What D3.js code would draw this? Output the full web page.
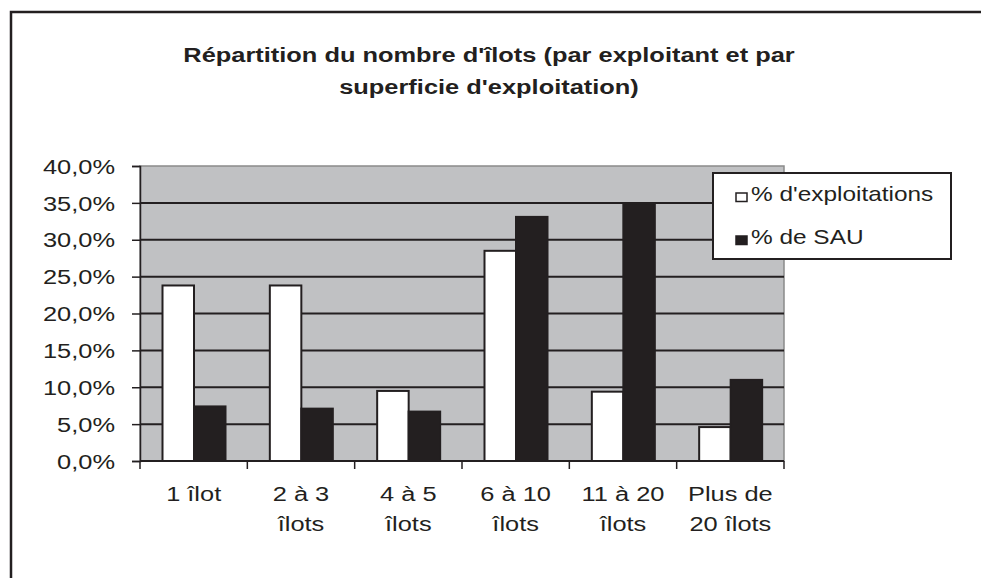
<!DOCTYPE html>
<html><head><meta charset="utf-8">
<script src="https://cdn.jsdelivr.net/npm/d3@7"></script>
<style>body{margin:0;background:#fff}svg{display:block}</style>
</head><body><svg id="c" width="981" height="578"></svg>
<script>
const categories = [["1 îlot"], ["2 à 3", "îlots"], ["4 à 5", "îlots"], ["6 à 10", "îlots"], ["11 à 20", "îlots"], ["Plus de", "20 îlots"]];
const seriesNames = ["% d'exploitations", "% de SAU"];
const exploitations = [23.8, 23.8, 9.5, 28.5, 9.4, 4.6];
const sau = [7.4, 7.1, 6.7, 33.1, 34.9, 11.0];
const yTicks = [0, 5, 10, 15, 20, 25, 30, 35, 40];
const titleLines = ["Répartition du nombre d'îlots (par exploitant et par", "superficie d'exploitation)"];

const svg = d3.select("#c");
const font = "'Liberation Sans', Arial, sans-serif";
const dark = "#231f20";
const L = 140, R = 784, T = 166, B = 461;
const SX = 1.27;

// outer border
svg.append("rect").attr("x", 11).attr("y", 12).attr("width", 1000).attr("height", 600)
  .attr("fill", "none").attr("stroke", dark).attr("stroke-width", 2.5);

// title
svg.append("g").selectAll("text").data(titleLines).join("text")
  .attr("transform", (d, i) => `translate(489,${62 + i * 32}) scale(${SX},1)`)
  .attr("text-anchor", "middle").attr("font-family", font).attr("font-weight", "bold")
  .attr("font-size", 20).attr("fill", dark).text(d => d);

const x = d3.scaleBand().domain(d3.range(categories.length)).range([L, R]).paddingInner(0).paddingOuter(0);
const y = d3.scaleLinear().domain([0, 40]).range([B, T]);

// plot area
svg.append("rect").attr("x", L).attr("y", T).attr("width", R - L).attr("height", B - T)
  .attr("fill", "#c0c1c3").attr("stroke", "#8a8a8a").attr("stroke-width", 1.5);

// gridlines
svg.append("g").selectAll("line").data(yTicks.filter(v => v > 0 && v < 40)).join("line")
  .attr("x1", L).attr("x2", R).attr("y1", d => y(d)).attr("y2", d => y(d))
  .attr("stroke", dark).attr("stroke-width", 2);

// bars
const bw = 31.5;
const groupOff = 22.5;
const series = [exploitations, sau];
const fills = ["#ffffff", dark];
series.forEach((vals, si) => {
  svg.append("g").selectAll("rect").data(vals).join("rect")
    .attr("x", (d, i) => x(i) + groupOff + si * bw)
    .attr("y", d => y(d))
    .attr("width", bw)
    .attr("height", d => B - y(d))
    .attr("fill", fills[si]).attr("stroke", dark).attr("stroke-width", 2);
});

// y axis
const yAxis = d3.axisLeft(y).tickValues(yTicks).tickSize(8)
  .tickFormat(d => d3.format(".1f")(d).replace(".", ",") + "%");
const ga = svg.append("g").attr("transform", `translate(${L},0)`).call(yAxis);
ga.select(".domain").attr("stroke", dark).attr("stroke-width", 1.5);
ga.selectAll(".tick line").attr("stroke", dark).attr("stroke-width", 1.5);
ga.selectAll(".tick text").attr("x", 0).attr("dy", "0.36em")
  .attr("transform", `translate(-25,0) scale(${SX},1)`)
  .attr("font-family", font).attr("font-size", 20).attr("fill", dark);

// x axis
svg.append("line").attr("x1", L).attr("x2", R).attr("y1", B).attr("y2", B).attr("stroke", dark).attr("stroke-width", 2);
svg.append("g").selectAll("line").data(d3.range(categories.length + 1)).join("line")
  .attr("x1", i => L + i * x.bandwidth()).attr("x2", i => L + i * x.bandwidth())
  .attr("y1", B).attr("y2", B + 8).attr("stroke", dark).attr("stroke-width", 1.5);
const xl = svg.append("g").selectAll("text").data(categories).join("text")
  .attr("transform", (d, i) => `translate(${x(i) + x.bandwidth() / 2},501) scale(${SX},1)`)
  .attr("text-anchor", "middle").attr("font-family", font)
  .attr("font-size", 20).attr("fill", dark);
xl.selectAll("tspan").data(d => d).join("tspan")
  .attr("x", 0).attr("dy", (d, i) => i === 0 ? 0 : 30).text(d => d);

// legend
const lg = svg.append("g");
lg.append("rect").attr("x", 713).attr("y", 173).attr("width", 238).attr("height", 86)
  .attr("fill", "#fff").attr("stroke", dark).attr("stroke-width", 2);
seriesNames.forEach((n, i) => {
  const base = 201 + i * 43;
  lg.append("rect").attr("x", 736).attr("y", base - 8).attr("width", 11).attr("height", 8.5)
    .attr("fill", fills[i]).attr("stroke", dark).attr("stroke-width", 1.5);
  lg.append("text").attr("transform", `translate(751,${base}) scale(1.22,1)`)
    .attr("font-family", font).attr("font-size", 20).attr("fill", dark).text(n);
});
</script></body></html>
